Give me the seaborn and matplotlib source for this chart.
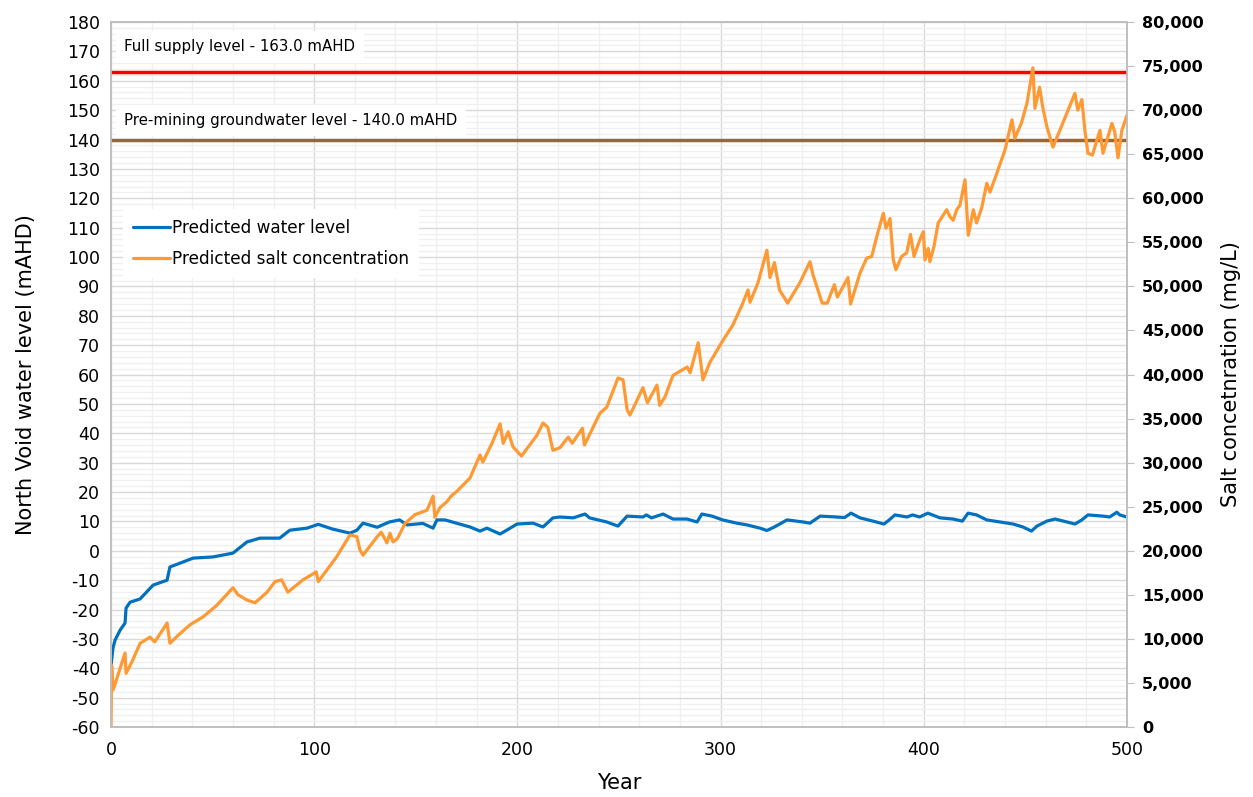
import numpy as np
import pandas as pd
import matplotlib
matplotlib.use('Agg')
import matplotlib.pyplot as plt
from matplotlib.ticker import MultipleLocator, FuncFormatter
import seaborn as sns

# ---- data ----
wl_year = [0, 1, 2, 4.5, 6.9, 7.4, 9.4, 14.3, 20.7, 27.6, 29, 34, 40.4, 50.2, 60,
           66.9, 73.3, 83, 88, 96.5, 102, 109, 117.6, 121, 124, 131, 137, 142,
           145.7, 153.5, 158.5, 160.4, 164.4, 170, 176.7, 181.6, 185, 191.5, 194,
           199.8, 207.7, 212.6, 217.5, 221, 227.4, 233.3, 235.5, 244, 249.5, 254,
           261.8, 263.5, 266, 271.7, 276.6, 283.5, 288.4, 290.8, 295.8, 301, 308,
           313, 319.4, 322.8, 326.5, 332.7, 340.6, 344, 349, 357, 361, 364.2,
           368.6, 375, 380.4, 383, 385.8, 391.7, 394.5, 398, 402, 408, 414.4, 419,
           421.8, 426, 431, 437.5, 444, 448.8, 453, 455.7, 460.6, 464.6, 470.5,
           474.4, 477.8, 480.8, 488.2, 491.5, 495, 496.5, 500]
wl_level = [-39, -33, -30.4, -27, -24.6, -19.5, -17.5, -16.4, -11.7, -10, -5.5, -4.2,
            -2.5, -2.1, -0.8, 3, 4.3, 4.3, 7, 7.7, 9, 7.4, 6, 7, 9.4, 8, 9.8, 10.5,
            8.8, 9.3, 7.7, 10.5, 10.5, 9.4, 8.1, 6.7, 7.7, 5.7, 6.7, 9.1, 9.4, 8.1,
            11.2, 11.5, 11.2, 12.5, 11.2, 9.8, 8.4, 11.8, 11.5, 12.2, 11.2, 12.5,
            10.8, 10.8, 9.8, 12.5, 11.8, 10.5, 9.4, 8.8, 7.7, 6.9, 8.1, 10.5, 9.8,
            9.4, 11.8, 11.5, 11.3, 12.8, 11.2, 10.1, 9.1, 10.5, 12.2, 11.5, 12.2,
            11.5, 12.8, 11.2, 10.8, 10.1, 12.8, 12.2, 10.5, 9.8, 9.1, 8.1, 6.7, 8.4,
            10.1, 10.8, 9.8, 9.1, 10.5, 12.2, 11.8, 11.5, 13.1, 12.2, 11.5]

salt_year = [0, 0.3, 1, 3, 6.9, 7.4, 10.3, 14.3, 19.2, 21.5, 27.6, 29, 33, 38.9,
             45.3, 52, 60, 62.5, 67, 70.9, 76.8, 80.7, 84, 87, 94.5, 101, 102, 111,
             117.6, 121, 122.5, 124, 131, 133, 135.8, 137.3, 138.8, 141, 144.7,
             149.6, 152, 155.5, 158.5, 159.4, 161.9, 165, 167.8, 170, 176.7, 181.6,
             183, 187.5, 191.5, 193, 195.5, 197.8, 202, 209.6, 212.6, 215, 217.5,
             221, 225, 227, 232, 233, 240.6, 244, 249.5, 252, 254, 255.4, 261.8,
             264, 268.7, 270, 272.6, 276.6, 283.5, 285, 289, 291.3, 294.8, 300.7,
             306, 310.6, 313.5, 314.5, 318.4, 322.8, 324.3, 326.5, 329, 333, 339,
             344, 345.5, 350, 352.5, 356, 357.5, 362.7, 364, 368.6, 371.9, 374.4,
             376.8, 380.1, 381.4, 383.4, 385, 386.3, 389.1, 391.6, 393.5, 395.2,
             398.1, 399.8, 400.6, 402.2, 403, 405, 407.1, 411.3, 412.9, 414.5,
             416.2, 417.8, 420.3, 421.9, 424.4, 426, 428.5, 431, 432.6, 435.9, 440,
             443.4, 444.8, 448, 450.8, 453.7, 454.7, 457, 458.5, 460.6, 463.6, 468,
             470.5, 474.4, 475.8, 477.8, 479.3, 480.8, 483, 486.7, 488.2, 492.6,
             494, 495.6, 497.5, 500]
salt_conc = [0, 7000, 4200, 5600, 8400, 6100, 7400, 9500, 10200, 9650, 11800, 9500,
             10400, 11600, 12500, 13800, 15800, 15000, 14400, 14100, 15300, 16500,
             16700, 15300, 16700, 17600, 16500, 19300, 21800, 21600, 20100, 19500,
             21600, 22100, 20900, 22000, 21000, 21400, 23100, 24100, 24300, 24600,
             26200, 23800, 24900, 25500, 26300, 26700, 28260, 30870, 30070, 32200,
             34400, 32200, 33500, 31800, 30750, 33100, 34500, 34000, 31400, 31700,
             32900, 32200, 33900, 32000, 35600, 36300, 39600, 39400, 36000, 35400,
             38500, 36800, 38800, 36500, 37450, 39900, 40850, 40200, 43600, 39400,
             41400, 43700, 45600, 47900, 49600, 48200, 50400, 54100, 51000, 52700,
             49600, 48100, 50400, 52800, 51300, 48100, 48100, 50200, 48800, 51000,
             48000, 51500, 53200, 53400, 55600, 58300, 56600, 57700, 53000, 51900,
             53400, 53800, 55900, 53400, 55300, 56200, 53000, 54300, 52800, 54500,
             57200, 58700, 57900, 57500, 58700, 59200, 62100, 55800, 58700, 57200,
             58900, 61700, 60700, 62800, 65500, 68900, 66800, 68500, 70800, 74800,
             70200, 72600, 70400, 68100, 65800, 68300, 69700, 71900, 70000, 71200,
             67700, 65100, 64900, 67700, 65100, 68500, 67500, 64600, 67700, 69400]

full_supply = 163.0
pre_mining = 140.0

left_ticks = list(range(-60, 181, 10))
right_ticks = list(range(0, 80001, 5000))
x_ticks = [0, 100, 200, 300, 400, 500]

wl_df = pd.DataFrame({'Year': wl_year, 'Level': wl_level})
salt_df = pd.DataFrame({'Year': salt_year, 'Salt': salt_conc})

sns.set_style("white")
plt.rcParams['font.family'] = ['DejaVu Sans']
plt.rcParams['axes.unicode_minus'] = False
plt.rcParams['text.color'] = 'black'
plt.rcParams['axes.labelcolor'] = 'black'
plt.rcParams['xtick.color'] = 'black'
plt.rcParams['ytick.color'] = 'black'

blue = '#0070C0'
orange = '#FF9933'
grid_major = '#D9D9D9'
grid_minor = '#F0F0F0'

fig = plt.figure(figsize=(12.53, 7.97), dpi=100)
ax = fig.add_axes([0.0886, 0.0878, 0.8108, 0.8846])
ax2 = ax.twinx()

# reference lines
ax.axhline(full_supply, color='#FF0000', lw=2.5, zorder=3)
ax.axhline(pre_mining, color='#9C6630', lw=2.5, zorder=3)

sns.lineplot(data=wl_df, x='Year', y='Level', ax=ax, color=blue, lw=2.3,
             estimator=None, sort=False, label='Predicted water level', legend=False)
sns.lineplot(data=salt_df, x='Year', y='Salt', ax=ax2, color=orange, lw=2.3,
             estimator=None, sort=False, label='Predicted salt concentration', legend=False)

ax.set_xlim(0, 500)
ax.set_ylim(-60, 180)
ax2.set_ylim(0, 80000)

ax.set_xticks(x_ticks)
ax.xaxis.set_minor_locator(MultipleLocator(20))
ax.set_yticks(left_ticks)
ax.yaxis.set_minor_locator(MultipleLocator(2))
ax2.set_yticks(right_ticks)
ax2.yaxis.set_major_formatter(FuncFormatter(lambda v, p: f'{int(v):,}'))

ax.grid(which='major', color=grid_major, lw=1.0, zorder=0)
ax.grid(which='minor', color=grid_minor, lw=1.0, zorder=0)
ax.set_axisbelow(True)

ax.tick_params(axis='both', which='both', length=0, labelsize=12.5, pad=8)
ax.tick_params(axis='x', pad=10)
ax2.tick_params(axis='y', length=5, color='#BFBFBF', labelsize=11.5, pad=6)
for lab in ax2.get_yticklabels():
    lab.set_fontweight('bold')

for sp in list(ax.spines.values()) + list(ax2.spines.values()):
    sp.set_color('#BFBFBF')
    sp.set_linewidth(1.2)

ax.set_xlabel('Year', fontsize=15, labelpad=10)
ax.set_ylabel('North Void water level (mAHD)', fontsize=15, labelpad=22)
ax2.set_ylabel('Salt concetnration (mg/L)', fontsize=15, labelpad=12)

box = dict(facecolor='white', edgecolor='none', pad=6)
ax.text(6.5, 171.5, 'Full supply level - 163.0 mAHD', fontsize=10.8,
        va='center', ha='left', bbox=box, zorder=4)
ax.text(6.5, 146.5, 'Pre-mining groundwater level - 140.0 mAHD', fontsize=10.8,
        va='center', ha='left', bbox=box, zorder=4)

h1, l1 = ax.get_legend_handles_labels()
h2, l2 = ax2.get_legend_handles_labels()
leg = ax2.legend(h1 + h2, l1 + l2, loc='upper left', bbox_to_anchor=(0.003, 0.747),
                 fontsize=12.2, frameon=True, fancybox=False, handlelength=2.2,
                 handletextpad=0.1, borderpad=0.6, labelspacing=0.75)
leg.get_frame().set_edgecolor('none')
leg.get_frame().set_facecolor('white')
leg.get_frame().set_alpha(1)

fig.savefig('out.png', dpi=100)
